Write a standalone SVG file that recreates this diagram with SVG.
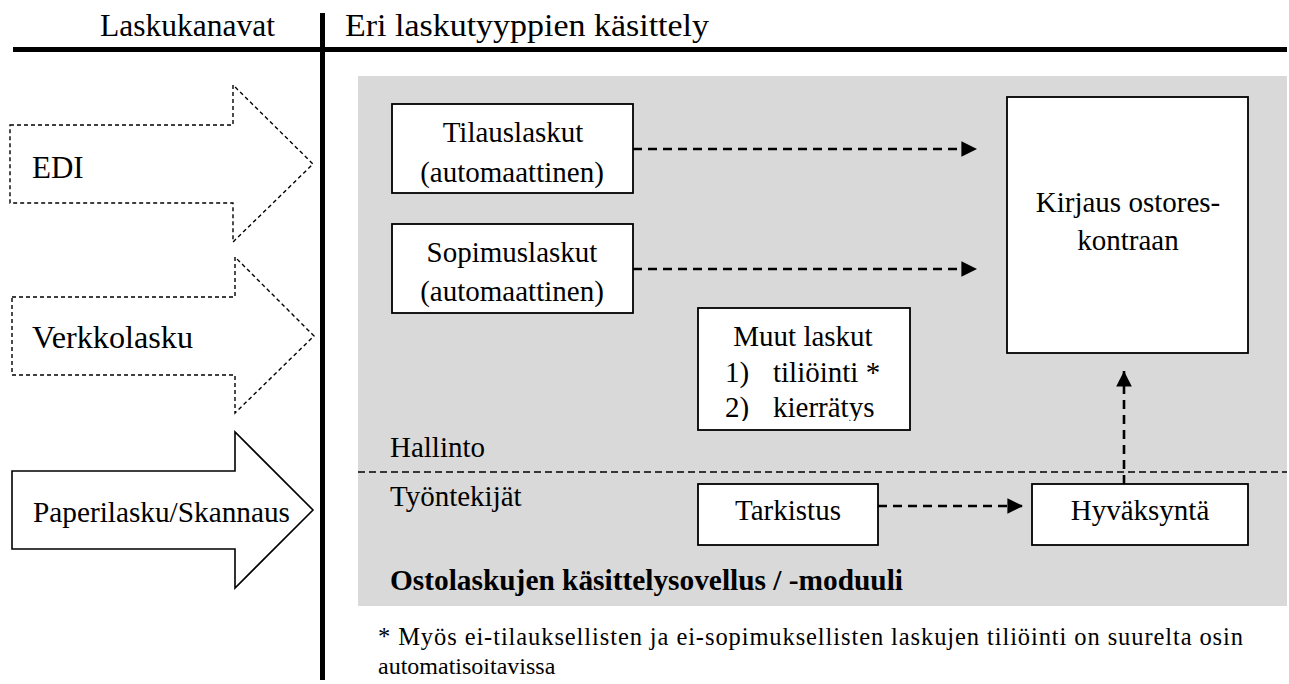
<svg xmlns="http://www.w3.org/2000/svg" width="1289" height="684" viewBox="0 0 1289 684" font-family="'Liberation Serif', 'Times New Roman', Tinos, 'DejaVu Serif', serif">
<defs>
<style>
text{font-family:'Liberation Serif','Times New Roman',Tinos,'DejaVu Serif',serif;fill:#000}
.t29{font-size:29px}
.t31{font-size:31px}
.c{text-anchor:middle}
.box{fill:#fff;stroke:#000;stroke-width:1.8}
.conn{fill:none;stroke:#000;stroke-width:2.6;stroke-dasharray:9 6}
.darr{fill:#fff;stroke:#000;stroke-width:1.4;stroke-dasharray:4 3}
.sarr{fill:#fff;stroke:#000;stroke-width:1.6}
</style>
<marker id="ah" viewBox="0 0 10 10" refX="10" refY="5" markerWidth="6" markerHeight="6.4" markerUnits="strokeWidth" orient="auto">
<path d="M0,0 L10,5 L0,10 Z" fill="#000"/>
</marker>
<filter id="sh" x="-5%" y="-200%" width="110%" height="500%"><feGaussianBlur stdDeviation="1.5"/></filter>
<clipPath id="clipMuut"><rect x="698" y="300" width="212" height="121"/></clipPath>
</defs>
<rect width="1289" height="684" fill="#fff"/>
<g id="header">
<line x1="15" y1="53" x2="1287" y2="53" stroke="#999" stroke-width="4" filter="url(#sh)"/>
<line x1="13" y1="49.5" x2="1287" y2="49.5" stroke="#000" stroke-width="5"/>
<line x1="322.5" y1="13" x2="322.5" y2="680" stroke="#000" stroke-width="5"/>
<text class="t31" x="100" y="36" textLength="175" lengthAdjust="spacingAndGlyphs">Laskukanavat</text>
<text class="t31" x="345" y="36" textLength="364" lengthAdjust="spacingAndGlyphs">Eri laskutyyppien käsittely</text>
</g>
<rect id="module-area" x="358" y="76" width="929" height="530" fill="#d9d9d9"/>
<line id="divider" x1="358" y1="472" x2="1287" y2="472" stroke="#000" stroke-width="1.5" stroke-dasharray="7 4"/>
<g id="edi">
<path class="darr" d="M10,125 L233,125 L233,85 L313,164 L233,242 L233,203 L10,203 Z"/>
<text class="t31" x="32" y="178">EDI</text>
</g>
<g id="verkkolasku">
<path class="darr" d="M12,297 L235,297 L235,257 L314,336 L235,413 L235,375 L12,375 Z"/>
<text class="t31" x="32" y="348" textLength="161" lengthAdjust="spacingAndGlyphs">Verkkolasku</text>
</g>
<g id="paperilasku">
<path class="sarr" d="M12,471 L235,471 L235,432 L313,510 L235,588 L235,549 L12,549 Z"/>
<text class="t29" x="33" y="522" textLength="257" lengthAdjust="spacingAndGlyphs">Paperilasku/Skannaus</text>
</g>
<g id="tilauslaskut">
<rect class="box" x="392" y="104" width="241" height="89"/>
<text class="t29 c" x="513" y="142">Tilauslaskut</text>
<text class="t29 c" x="512" y="182">(automaattinen)</text>
</g>
<g id="sopimuslaskut">
<rect class="box" x="392" y="224" width="241" height="89"/>
<text class="t29 c" x="512" y="262">Sopimuslaskut</text>
<text class="t29 c" x="512" y="301">(automaattinen)</text>
</g>
<g id="muut">
<rect class="box" x="698" y="308" width="212" height="122"/>
<text class="t29 c" x="803" y="346">Muut laskut</text>
<text class="t29" x="725" y="382">1)</text>
<text class="t29" x="773" y="382">tiliöinti *</text>
<g clip-path="url(#clipMuut)">
<text class="t29" x="725" y="417">2)</text>
<text class="t29" x="773" y="417">kierrätys</text>
</g>
</g>
<g id="kirjaus">
<rect class="box" x="1007" y="97" width="241" height="256"/>
<text class="t29 c" x="1128" y="212">Kirjaus ostores-</text>
<text class="t29 c" x="1128" y="250">kontraan</text>
</g>
<g id="tarkistus">
<rect class="box" x="698" y="484" width="180" height="61"/>
<text class="t29 c" x="788" y="520">Tarkistus</text>
</g>
<g id="hyvaksynta">
<rect class="box" x="1032" y="484" width="216" height="61"/>
<text class="t29 c" x="1140" y="520">Hyväksyntä</text>
</g>
<g id="labels">
<text class="t29" x="390" y="457">Hallinto</text>
<text class="t29" x="390" y="506">Työntekijät</text>
<text class="t29" x="390" y="590" font-weight="bold" textLength="513" lengthAdjust="spacingAndGlyphs">Ostolaskujen käsittelysovellus / -moduuli</text>
<text x="378" y="645" font-size="24.5" textLength="865" lengthAdjust="spacing">* Myös ei-tilauksellisten ja ei-sopimuksellisten laskujen tiliöinti on suurelta osin</text>
<text x="378" y="674" font-size="24">automatisoitavissa</text>
</g>
<g id="connectors">
<line class="conn" x1="633" y1="149" x2="977" y2="149" marker-end="url(#ah)"/>
<line class="conn" x1="633" y1="269" x2="977" y2="269" marker-end="url(#ah)"/>
<line class="conn" x1="878" y1="506" x2="1023" y2="506" marker-end="url(#ah)"/>
<line class="conn" x1="1124" y1="484" x2="1124" y2="371" marker-end="url(#ah)"/>
</g>
</svg>
